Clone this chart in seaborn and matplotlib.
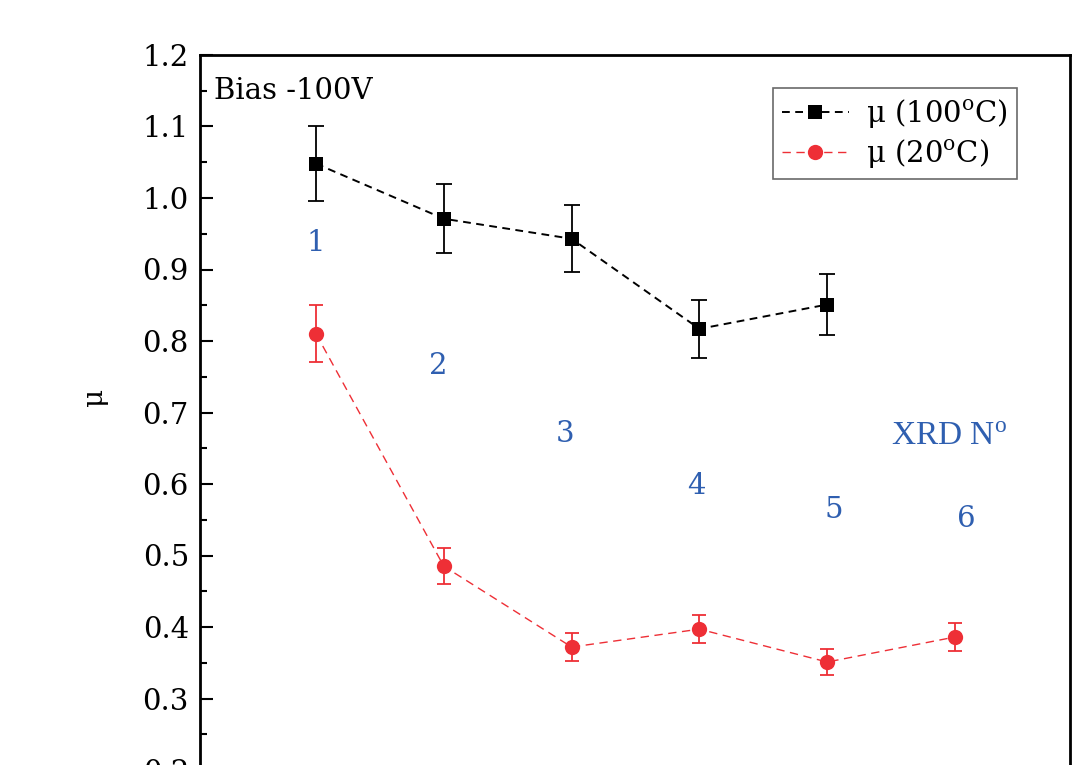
import matplotlib
matplotlib.use("Agg")
import matplotlib.pyplot as plt
import seaborn as sns
import numpy as np
import pandas as pd

# Friction coefficient vs. sample number
samples_hot = [1, 2, 3, 4, 5]
mu_hot = [1.048, 0.971, 0.943, 0.817, 0.851]
err_hot = [0.052, 0.048, 0.047, 0.041, 0.043]

samples_rt = [1, 2, 3, 4, 5, 6]
mu_rt = [0.810, 0.485, 0.372, 0.397, 0.351, 0.386]
err_rt = [0.040, 0.025, 0.019, 0.020, 0.018, 0.020]

# XRD sample labels and where they sit
xrd_x = [1.0, 1.96, 2.95, 3.98, 5.05, 6.09]
xrd_y = [0.937, 0.765, 0.670, 0.597, 0.564, 0.551]
xrd_labels = ["1", "2", "3", "4", "5", "6"]

yticks = [0.2, 0.3, 0.4, 0.5, 0.6, 0.7, 0.8, 0.9, 1.0, 1.1, 1.2]

sns.set_theme(style="ticks")
plt.rcParams["font.family"] = ["DejaVu Serif"]
plt.rcParams["mathtext.fontset"] = "dejavuserif"
plt.rcParams["text.color"] = "black"
plt.rcParams["axes.labelcolor"] = "black"
plt.rcParams["ytick.color"] = "black"
plt.rcParams["axes.edgecolor"] = "black"

RED = "#ee2f36"
BLUE = "#2f5fb0"

fig = plt.figure(figsize=(10.81, 7.65), dpi=100)
ax = fig.add_axes([200 / 1081, -5 / 765, 870 / 1081, 715 / 765])

df_hot = pd.DataFrame({"x": samples_hot, "mu": mu_hot})
df_rt = pd.DataFrame({"x": samples_rt, "mu": mu_rt})

sns.lineplot(data=df_hot, x="x", y="mu", ax=ax, color="black", marker="s",
             markersize=10, markeredgewidth=0, linewidth=1.4,
             linestyle=(0, (4, 2.8)), label=r"$\mathregular{\mu\ (100^o C)}$")
ax.errorbar(samples_hot, mu_hot, yerr=err_hot, fmt="none", ecolor="black",
            elinewidth=1.3, capsize=5.5, capthick=1.3, zorder=1)

sns.lineplot(data=df_rt, x="x", y="mu", ax=ax, color=RED, marker="o",
             markersize=11, markeredgewidth=0, linewidth=1.0,
             linestyle=(0, (6, 4)), label=r"$\mathregular{\mu\ (20^o C)}$")
ax.errorbar(samples_rt, mu_rt, yerr=err_rt, fmt="none", ecolor=RED,
            elinewidth=1.3, capsize=5, capthick=1.3, zorder=1)

for xv, yv, t in zip(xrd_x, xrd_y, xrd_labels):
    ax.text(xv, yv, t, color=BLUE, fontsize=21, ha="center", va="center")
ax.text(5.95, 0.666, r"XRD N$^{\mathregular{o}}$", color=BLUE, fontsize=24,
        ha="center", va="center", family="Liberation Serif")

ax.text(0.2, 1.15, "Bias -100V", fontsize=21, ha="left", va="center")

ax.set_xlim(0.092, 6.9)
ax.set_ylim(0.2, 1.2)
ax.set_yticks(yticks)
ax.set_yticklabels([f"{v:.1f}" for v in yticks])
ax.set_yticks(np.arange(0.25, 1.2, 0.1), minor=True)
ax.set_xticks([])
ax.set_xlabel("")
ax.set_ylabel(r"$\mathregular{\mu}$", fontsize=20)
ax.yaxis.set_label_coords(-0.102, 0.52)

ax.tick_params(axis="y", which="major", direction="in", length=9, width=1.5,
               labelsize=21, pad=8, colors="black")
ax.tick_params(axis="y", which="minor", direction="in", length=5, width=1.5,
               colors="black")
for s in ax.spines.values():
    s.set_linewidth(2)
    s.set_visible(True)
    s.set_color("black")

leg = ax.legend(loc="upper left", bbox_to_anchor=(573 / 870, 1 - 33 / 715),
                fontsize=21, frameon=True, fancybox=False, edgecolor="#444444",
                handlelength=2.3, borderpad=0.3, labelspacing=0.25,
                handletextpad=0.6, borderaxespad=0)
leg.get_frame().set_linewidth(1.2)

fig.savefig("out.png", dpi=100)
